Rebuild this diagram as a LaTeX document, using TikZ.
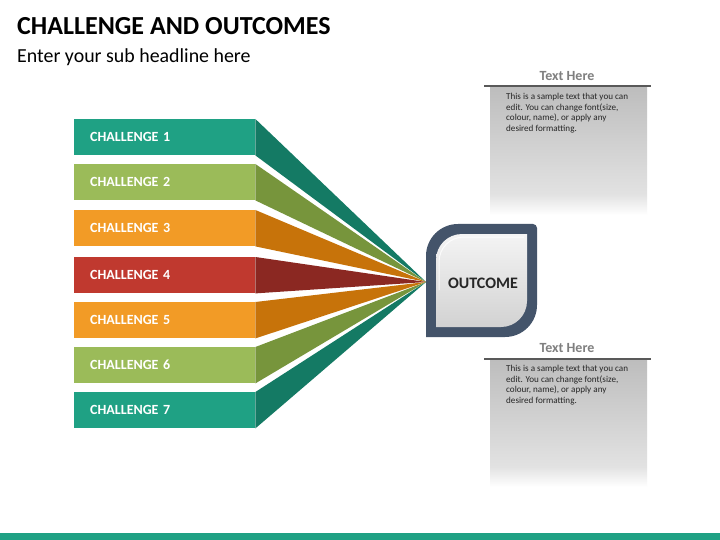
\documentclass[tikz,border=0pt]{standalone}
\usepackage{fontspec}
\setmainfont{Carlito}
\newcommand{\nohyphx}{\hyphenpenalty=10000\relax\exhyphenpenalty=10000\relax}
\definecolor{teal1}{HTML}{1FA184}
\definecolor{teal2}{HTML}{147A64}
\definecolor{green1}{HTML}{9BBB59}
\definecolor{green2}{HTML}{77953C}
\definecolor{orange1}{HTML}{F29B26}
\definecolor{orange2}{HTML}{C7730A}
\definecolor{red1}{HTML}{C0392F}
\definecolor{red2}{HTML}{8B2822}
\definecolor{slate}{HTML}{44546A}
\definecolor{greytxt}{HTML}{7F7F7F}
\definecolor{greyline}{HTML}{595959}
\definecolor{boxtop}{HTML}{BDBDBD}
\definecolor{boxmid}{HTML}{E2E2E2}
\definecolor{outtop}{HTML}{F4F4F4}
\definecolor{outbot}{HTML}{D2D2D2}
\pgfdeclareverticalshading{boxshade}{100bp}{color(0bp)=(white); color(25bp)=(white); color(33bp)=(boxmid); color(75bp)=(boxtop); color(100bp)=(boxtop)}
\tikzset{
  bar/.style={anchor=north west, minimum width=181pt, minimum height=36pt, inner xsep=16pt, inner ysep=0pt,
    text width=149pt, align=left, text=white, font=\fontsize{14}{16}\selectfont\bfseries},
  head/.style={font=\fontsize{14}{16}\selectfont\bfseries, text=greytxt, inner sep=0pt},
  body/.style={anchor=north west, text width=125pt, align=flush left, inner sep=0pt, font=\fontsize{9.1}{10.7}\selectfont\nohyphx, text=black!85},
  gbox/.style={shading=boxshade, draw=none},
  rule/.style={draw=greyline, line width=2pt}
}
\begin{document}
\begin{tikzpicture}[x=1pt,y=-1pt]
\useasboundingbox (0,0) rectangle (720,540);
\fill[white] (0,0) rectangle (720,540);
% title
\node[anchor=base west, inner sep=0pt, font=\fontsize{26}{30}\selectfont\bfseries] (title) at (17,35) {CHALLENGE AND OUTCOMES};
\node[anchor=base west, inner sep=0pt, font=\fontsize{19.9}{23}\selectfont] (sub) at (17,63) {Enter your sub headline here};
% apex
\coordinate (apex) at (426,282);
% bars
\node[bar, fill=teal1] (c1) at (74,119) {CHALLENGE 1};
\node[bar, fill=green1] (c2) at (74,164) {CHALLENGE 2};
\node[bar, fill=orange1] (c3) at (74,210) {CHALLENGE 3};
\node[bar, fill=red1] (c4) at (74,257) {CHALLENGE 4};
\node[bar, fill=orange1] (c5) at (74,302) {CHALLENGE 5};
\node[bar, fill=green1] (c6) at (74,347) {CHALLENGE 6};
\node[bar, fill=teal1] (c7) at (74,392) {CHALLENGE 7};
% wedges
\fill[teal2] (c1.north east) -- (apex) -- (c1.south east) -- cycle;
\fill[green2] (c2.north east) -- (apex) -- (c2.south east) -- cycle;
\fill[orange2] (c3.north east) -- (apex) -- (c3.south east) -- cycle;
\fill[red2] (c4.north east) -- (apex) -- (c4.south east) -- cycle;
\fill[orange2] (c5.north east) -- (apex) -- (c5.south east) -- cycle;
\fill[green2] (c6.north east) -- (apex) -- (c6.south east) -- cycle;
\fill[teal2] (c7.north east) -- (apex) -- (c7.south east) -- cycle;
% outcome shape
\fill[slate] (426,337) -- (426,256) .. controls (426,238.3) and (440.3,224) .. (458,224) -- (533,224) .. controls (535.2,224) and (537,225.8) .. (537,228) -- (537,305) .. controls (537,322.7) and (522.7,337) .. (505,337) -- cycle;
\shade[top color=outtop, bottom color=outbot] (436,327) -- (436,260) .. controls (436,245.6) and (447.6,234) .. (462,234) -- (527,234) -- (527,301) .. controls (527,315.4) and (515.4,327) .. (501,327) -- cycle;
\draw[white, line width=1pt, opacity=0.8] (439,290) -- (439,262) .. controls (439,248) and (450,237) .. (464,237) -- (524,237);
\node[font=\fontsize{16}{18}\selectfont\bfseries, text=black!85, inner sep=0pt] (outcome) at (483,283) {OUTCOME};
% upper text box
\path[gbox] (490,87) rectangle (647,215);
\draw[rule] (484,86) -- (651,86);
\node[head] (h1) at (567,76) {Text Here};
\node[body] (t1) at (506,93) {This is a sample text that you can edit. You can change font(size, colour, name), or apply any desired formatting.};
% lower text box
\path[gbox] (490,360) rectangle (647,487);
\draw[rule] (484,359) -- (651,359);
\node[head] (h2) at (567,348) {Text Here};
\node[body] (t2) at (506,365) {This is a sample text that you can edit. You can change font(size, colour, name), or apply any desired formatting.};
% bottom stripe
\fill[teal1] (0,533) rectangle (720,540);
\end{tikzpicture}
\end{document}
